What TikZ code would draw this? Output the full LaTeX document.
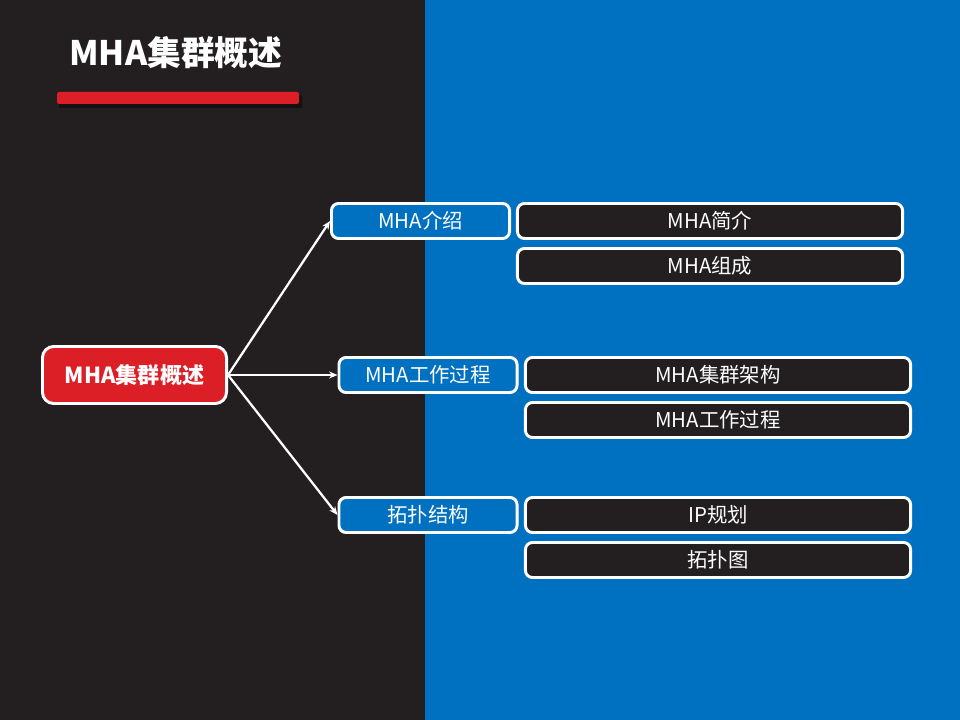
\documentclass[tikz,border=0pt]{standalone}
\usepackage{fontspec}
\setmainfont{Noto Sans CJK SC}
\usetikzlibrary{arrows.meta, shadows}
\definecolor{fondo}{HTML}{231F20}
\definecolor{azul}{HTML}{0070C0}
\definecolor{rojo}{HTML}{DC1E27}

\begin{document}
\begin{tikzpicture}[x=0.025cm, y=-0.025cm,
    every node/.style={text=white, inner sep=0pt},
    caja/.style={draw=white, line width=2.1pt, rounded corners=5pt},
    tema/.style={caja, fill=azul, minimum width=4.45cm, minimum height=0.875cm, font=\fontsize{14.5}{16}\selectfont},
    detalle/.style={caja, fill=fondo, minimum width=9.625cm, minimum height=0.875cm, font=\fontsize{14.5}{16}\selectfont},
    flecha/.style={-{Stealth[length=6pt, width=5pt]}, white, line width=1.6pt}]
    % FONDO
    \useasboundingbox (0,0) rectangle (960,720);
    \fill[fondo] (0,0) rectangle (425,720);
    \fill[azul] (425,0) rectangle (960,720);
    % TITULO
    \node[anchor=west, font=\fontsize{24}{26}\selectfont\bfseries] (titulo) at (69,53) {MHA集群概述};
    \fill[black, opacity=0.45, rounded corners=1.5pt] (59,95) rectangle (302,108);
    \fill[rojo, rounded corners=1.5pt] (57,92) rectangle (299,104);
    % CENTRO
    \node[caja, fill=rojo, minimum width=4.6cm, minimum height=1.425cm, rounded corners=8pt,
          font=\fontsize{15.7}{18}\selectfont\bfseries] (centro) at (134.5,375) {MHA集群概述};
    % TEMAS
    \node[tema] (intro) at (420.5,221) {MHA介绍};
    \node[tema] (proceso) at (428,375) {MHA工作过程};
    \node[tema] (topo) at (428,515) {拓扑结构};
    % DETALLES
    \node[detalle] (jianjie) at (710,221) {MHA简介};
    \node[detalle] (zucheng) at (710,266) {MHA组成};
    \node[detalle] (jiagou) at (718,375) {MHA集群架构};
    \node[detalle] (guocheng) at (718,420) {MHA工作过程};
    \node[detalle] (ipplan) at (718,515) {IP规划};
    \node[detalle] (tuopu) at (718,560) {拓扑图};
    % FLECHAS
    \draw[flecha] (centro.east) -- (intro.west);
    \draw[flecha] (centro.east) -- (proceso.west);
    \draw[flecha] (centro.east) -- (topo.west);
\end{tikzpicture}
\end{document}
